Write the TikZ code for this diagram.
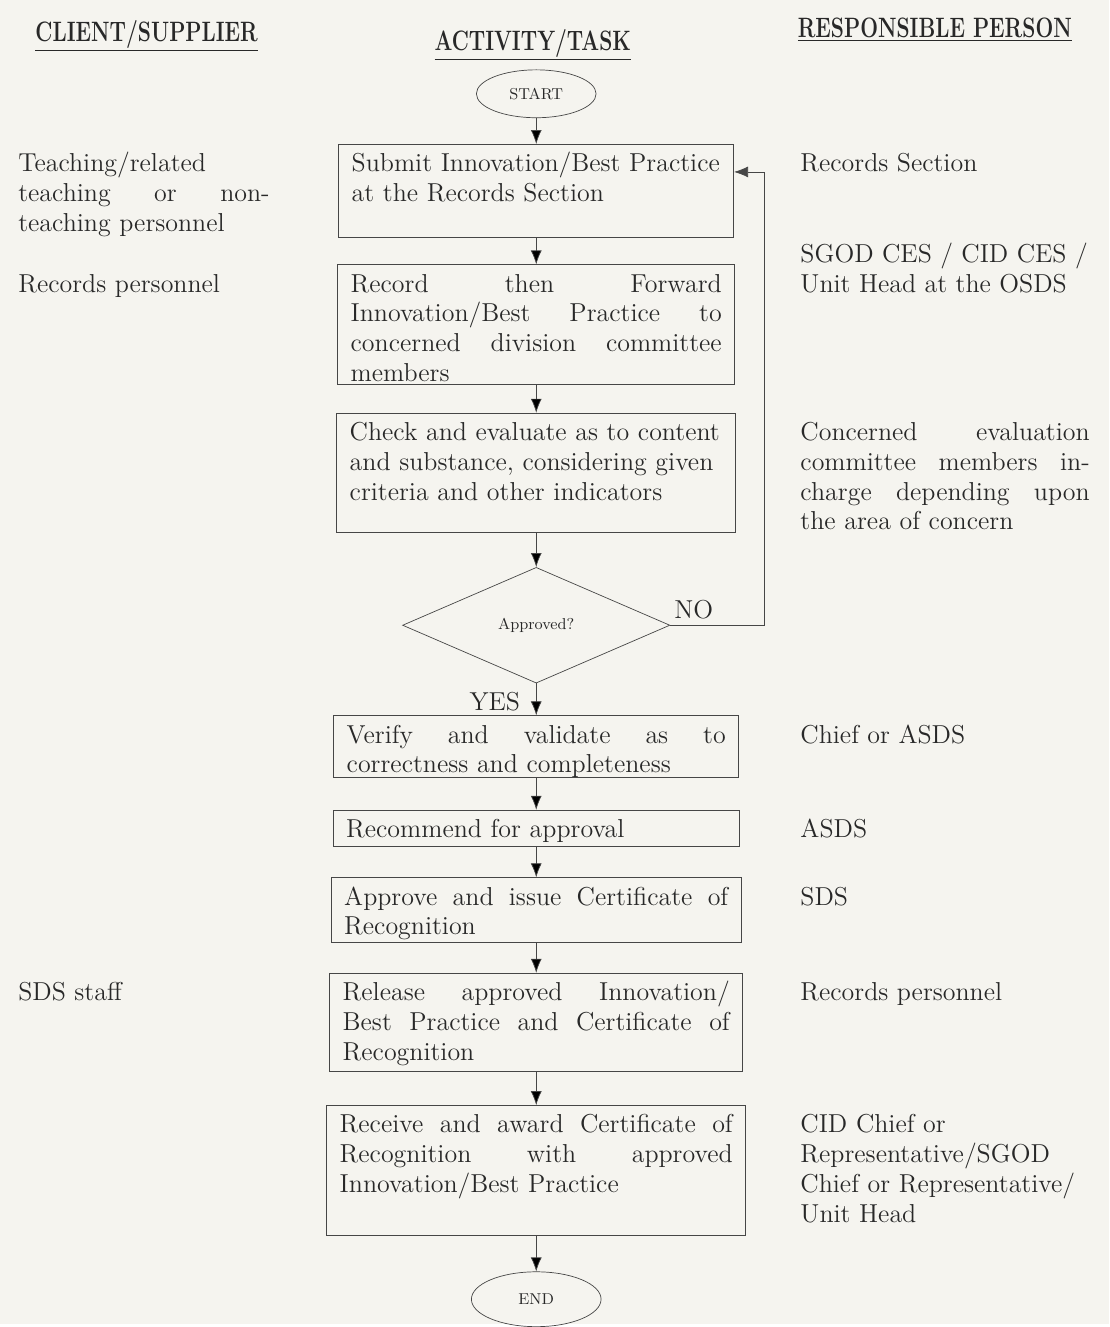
\documentclass[tikz,border=0pt]{standalone}
\usepackage{fontspec}
\usetikzlibrary{shapes.geometric, arrows.meta, positioning}

\definecolor{paper}{RGB}{245,244,239}
\definecolor{ink}{RGB}{40,40,40}
\definecolor{rule}{RGB}{70,70,70}

\newcommand{\bodyfont}{\fontsize{14.8}{17}\selectfont}

\tikzset{
  task/.style={draw=rule, rectangle, text width=7.58cm, inner xsep=0.26cm,
    inner ysep=0.15cm, text height=0.4cm, align=left, font=\bodyfont, text=ink},
  side/.style={anchor=north west, inner xsep=0pt, inner ysep=0.15cm,
    text height=0.4cm, align=left, font=\bodyfont, text=ink},
  term/.style={draw=rule, ellipse, inner sep=0pt, font=\small, text=ink},
  decision/.style={draw=rule, diamond, aspect=2.3, inner sep=0pt,
    minimum width=5.36cm, minimum height=2.32cm, font=\small, text=ink},
  head/.style={font=\bfseries\fontsize{16}{18}\selectfont, text=ink},
  flow/.style={draw=rule, -{Latex[length=2.8mm,width=2.2mm]}},
  tag/.style={font=\bodyfont, text=ink}
}

\begin{document}
\begin{tikzpicture}[x=0.02cm, y=-0.02cm]
      \fill[paper] (0,0) rectangle (1112,1327);

      % column headings
      \node[head] (h_client) at (147,36) {\underline{\scalebox{0.75}[1]{CLIENT/SUPPLIER}}};
      \node[head] (h_task) at (534,45) {\underline{\scalebox{0.75}[1]{ACTIVITY/TASK}}};
      \node[head] (h_person) at (937,30) {\underline{\scalebox{0.75}[1]{RESPONSIBLE PERSON}}};

      % flow
      \node[term, minimum width=2.4cm, minimum height=0.96cm] (start) at (537.5,94) {START};
      \node[task, text width=7.4cm, text depth=1.16cm] (submit) [below=0.52cm of start]
            {Submit Innovation/Best Practice\\at the Records Section};
      \node[task, text width=7.44cm, text depth=1.7cm] (record) [below=0.54cm of submit]
            {Record\hfill then\hfill Forward\\Innovation/Best\hfill Practice\hfill to\\concerned\hfill division\hfill committee\\members};
      \node[task, text width=7.48cm, text depth=1.7cm] (check) [below=0.56cm of record]
            {Check and evaluate as to content\\and substance, considering given\\criteria and other indicators};
      \node[decision] (approved) [below=0.68cm of check] {Approved?};
      \node[task, text width=7.6cm, text depth=0.54cm] (verify) [below=0.64cm of approved]
            {Verify\hfill and\hfill validate\hfill as\hfill to\\correctness and completeness};
      \node[task, text width=7.62cm, text depth=0.02cm] (recommend) [below=0.64cm of verify]
            {Recommend for approval};
      \node[task, text width=7.7cm, text depth=0.6cm] (approve) [below=0.62cm of recommend]
            {Approve\hfill and\hfill issue\hfill Certificate\hfill of\\Recognition};
      \node[task, text width=7.76cm, text depth=1.26cm] (release) [below=0.6cm of approve]
            {Release\hfill approved\hfill Innovation/\\Best\hfill Practice\hfill and\hfill Certificate\hfill of\\Recognition};
      \node[task, text width=7.88cm, text depth=1.9cm] (receive) [below=0.68cm of release]
            {Receive\hfill and\hfill award\hfill Certificate\hfill of\\Recognition\hfill with\hfill approved\\Innovation/Best Practice};
      \node[term, minimum width=2.6cm, minimum height=1.1cm] (end) [below=0.72cm of receive] {END};

      \path[flow] (start) edge (submit)
            (submit) edge (record)
            (record) edge (check)
            (check) edge (approved)
            (approved) edge node[tag, left, xshift=-0.2cm, yshift=-0.05cm] {YES} (verify)
            (verify) edge (recommend)
            (recommend) edge (approve)
            (approve) edge (release)
            (release) edge (receive)
            (receive) edge (end);

      % loop back when not approved
      \coordinate (loop) at (766,0);
      \draw[flow] (approved.east) -- node[tag, above, pos=0.25] {NO} (approved.east -| loop)
            |- ([yshift=-0.56cm]submit.north east);

      % client / supplier column
      \coordinate (lcol) at (18,0);
      \node[side, text width=5.04cm] (c_teach) at (submit.north -| lcol)
            {Teaching/related\\teaching\hfill or\hfill non-\\teaching personnel};
      \node[side] (c_records) at (record.north -| lcol) {Records personnel};
      \node[side] (c_staff) at (release.north -| lcol) {SDS staff};

      % responsible person column
      \coordinate (rcol) at (802,0);
      \node[side] (p_records) at (submit.north -| rcol) {Records Section};
      \node[side] (p_ces) at (record.north -| rcol) {SGOD CES / CID CES /\\Unit Head at the OSDS};
      \node[side, text width=5.8cm] (p_committee) at (check.north -| rcol)
            {Concerned\hfill evaluation\\committee\hfill members\hfill in-\\charge\hfill depending\hfill upon\\the area of concern};
      \node[side] (p_chief) at (verify.north -| rcol) {Chief or ASDS};
      \node[side] (p_asds) at (recommend.north -| rcol) {ASDS};
      \node[side] (p_sds) at (approve.north -| rcol) {SDS};
      \node[side] (p_personnel) at (release.north -| rcol) {Records personnel};
      \node[side, text width=5.9cm] (p_cid) at (receive.north -| rcol)
            {CID Chief or\\Representative/SGOD\\Chief or Representative/\\Unit Head};
\end{tikzpicture}
\end{document}
